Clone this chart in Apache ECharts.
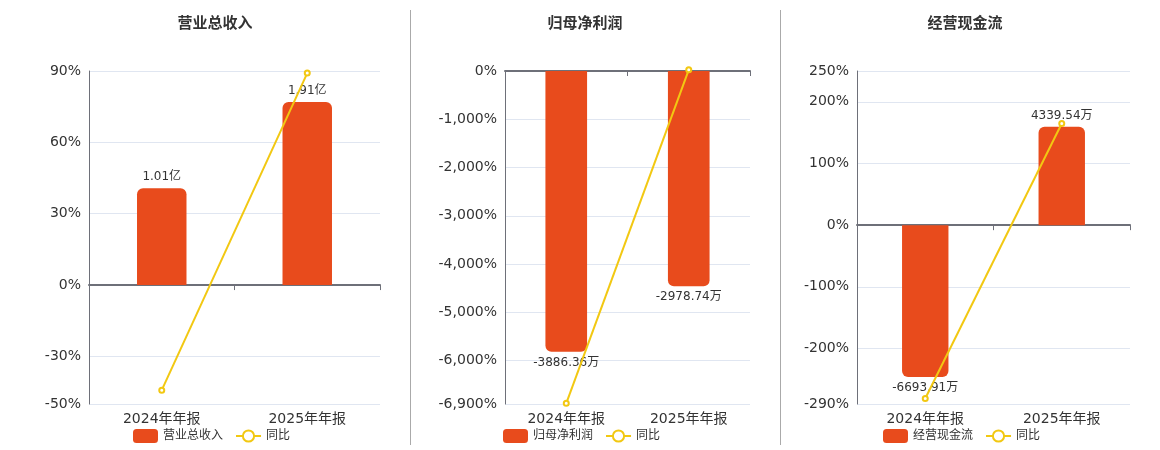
<!DOCTYPE html>
<html lang="zh-cn">
<head>
<meta charset="utf-8">
<title>财务指标</title>
<script src="https://cdn.jsdelivr.net/npm/echarts@6/dist/echarts.min.js"></script>
<style>
  html, body { margin: 0; padding: 0; background: #fff; }
  #chart { width: 1160px; height: 450px; }
</style>
</head>
<body>
<div id="chart"></div>
<script>
// 报告期
var categories = ['2024年年报', '2025年年报'];

// 营业总收入 (元) / 同比 (%)
var revenue = [1.01e8, 1.91e8];
var revenueYoy = [-44.2, 89.11];

// 归母净利润 (元) / 同比 (%)
var netProfit = [-3886.36e4, -2978.74e4];
var netProfitYoy = [-6886, 23.35];

// 经营现金流 (元) / 同比 (%)
var cashFlow = [-6693.91e4, 4339.54e4];
var cashFlowYoy = [-281, 164.83];

// 百分比轴范围
var revenueRange = [-50, 90];
var netProfitRange = [-6900, 0];
var cashFlowRange = [-290, 250];

var barColor = '#E84B1C';
var lineColor = '#F2C812';
var font = '"DejaVu Sans", "Noto Sans CJK SC", sans-serif';

var panels = [
    { title: '营业总收入', bars: revenue, yoy: revenueYoy, range: revenueRange, scale: 2.48e6,
      center: 210, grid: { left: 89, right: 780 }, legendLeft: 133 },
    { title: '归母净利润', bars: netProfit, yoy: netProfitYoy, range: netProfitRange, scale: 6682,
      center: 580, grid: { left: 505, right: 410 }, legendLeft: 503 },
    { title: '经营现金流', bars: cashFlow, yoy: cashFlowYoy, range: cashFlowRange, scale: 2.72e5,
      center: 960, grid: { left: 857, right: 30 }, legendLeft: 883 }
];

function amountText(v) {
    if (Math.abs(v) >= 1e8) return (v / 1e8).toFixed(2) + '亿';
    return (v / 1e4).toFixed(2) + '万';
}

var option = {
    animation: false,
    textStyle: { fontFamily: font },
    title: [], legend: [], grid: [], xAxis: [], yAxis: [], series: [],
    graphic: [
        { type: 'line', shape: { x1: 410.5, y1: 10, x2: 410.5, y2: 445 }, style: { stroke: '#aaa', lineWidth: 1 } },
        { type: 'line', shape: { x1: 780.5, y1: 10, x2: 780.5, y2: 445 }, style: { stroke: '#aaa', lineWidth: 1 } }
    ]
};

panels.forEach(function (p, i) {
    option.title.push({
        text: p.title, left: p.center, top: 12, textAlign: 'center',
        textStyle: { fontSize: 15, fontWeight: 'bold', color: '#333', fontFamily: font }
    });
    option.legend.push({
        data: [p.title, '同比'], left: p.legendLeft, top: 429, padding: 0,
        itemWidth: 25, itemHeight: 14, itemGap: 12,
        textStyle: { fontSize: 12, color: '#333', fontFamily: font }
    });
    option.grid.push({ left: p.grid.left, right: p.grid.right, top: 71, bottom: 46 });
    option.xAxis.push({
        type: 'category', gridIndex: i, data: categories,
        axisLine: { onZero: true, lineStyle: { color: '#6E7079', width: 2 } },
        axisTick: { show: true, lineStyle: { color: '#6E7079' } },
        axisLabel: { fontSize: 14, color: '#333', margin: 8, fontFamily: font }
    });
    // 可见的百分比轴
    option.yAxis.push({
        type: 'value', gridIndex: i, min: p.range[0], max: p.range[1], splitNumber: 5,
        axisLine: { show: true, lineStyle: { color: '#6E7079' } },
        axisTick: { show: false },
        axisLabel: {
            fontSize: 14, color: '#333', fontFamily: font,
            formatter: function (v) { return v.toLocaleString('en-US') + '%'; }
        },
        splitLine: { lineStyle: { color: '#E0E6F1' } }
    });
    // 隐藏的金额轴, 零点与百分比轴对齐
    option.yAxis.push({
        type: 'value', gridIndex: i, min: p.range[0] * p.scale, max: p.range[1] * p.scale,
        show: false, splitLine: { show: false }
    });
    option.series.push({
        name: p.title, type: 'bar', xAxisIndex: i, yAxisIndex: i * 2 + 1,
        barWidth: '34%', itemStyle: { color: barColor },
        data: p.bars.map(function (v) {
            return {
                value: v,
                itemStyle: { borderRadius: v < 0 ? [0, 0, 6, 6] : [6, 6, 0, 0] },
                label: { position: v < 0 ? 'bottom' : 'top' }
            };
        }),
        label: {
            show: true, fontSize: 12, color: '#333', distance: 5, fontFamily: font,
            formatter: function (params) { return amountText(params.value); }
        }
    });
    option.series.push({
        name: '同比', type: 'line', xAxisIndex: i, yAxisIndex: i * 2,
        data: p.yoy, clip: false, z: 5,
        symbol: 'emptyCircle', symbolSize: 5,
        lineStyle: { color: lineColor, width: 2 },
        itemStyle: { color: lineColor, borderWidth: 1.5 }
    });
});

var myChart = echarts.init(document.getElementById('chart'));
myChart.setOption(option);
</script>
</body>
</html>
